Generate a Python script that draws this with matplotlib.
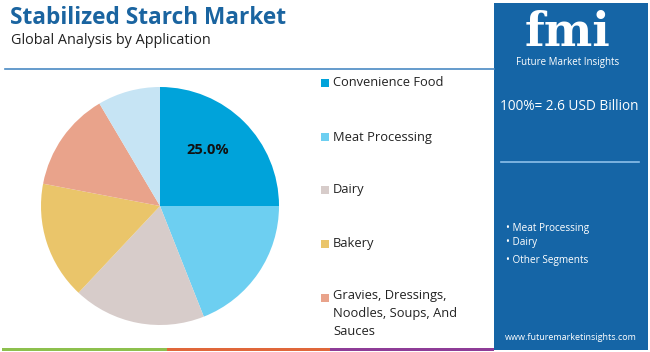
import matplotlib
matplotlib.use("Agg")
import matplotlib.pyplot as plt
from matplotlib.patches import Rectangle

plt.rcParams["font.family"] = ["Open Sans", "DejaVu Sans"]

# data
categories = ["Convenience Food", "Meat Processing", "Dairy", "Bakery",
              "Gravies, Dressings, Noodles, Soups, And Sauces", "Other"]
legend_labels = ["Convenience Food", "Meat Processing", "Dairy", "Bakery",
                 "Gravies, Dressings,\nNoodles, Soups, And\nSauces"]
shares = [25.0, 19.0, 18.0, 16.0, 13.5, 8.5]
colors = ["#00A3DA", "#6DCFF1", "#D7CCCA", "#EAC56A", "#E9A38B", "#C6E4F4"]
side_bullets = ["Meat Processing", "Dairy", "Other Segments"]

W, H = 650, 352
fig = plt.figure(figsize=(W / 100, H / 100), dpi=100)
fig.patch.set_facecolor("white")


def fx(x):
    return x / W


def fy(y):
    return 1 - y / H


# title block
fig.text(fx(10), fy(18), "Stabilized Starch Market", fontsize=16.3, fontweight="bold",
         color="#1A64A0", va="center", ha="left")
fig.text(fx(11), fy(40), "Global Analysis by Application", fontsize=10.4,
         color="#222222", va="center", ha="left")
fig.add_artist(plt.Line2D([fx(5), fx(494)], [fy(69), fy(69)], color="#4A8AC4", lw=1.2))

# bottom stripe
for x0, x1, c in [(2, 167, "#8DC04E"), (167, 330, "#E0673A"), (330, 494, "#8E3C97")]:
    fig.add_artist(Rectangle((fx(x0), fy(351)), fx(x1 - x0), 3 / H, color=c, lw=0))

# right panel
fig.add_artist(Rectangle((fx(494), fy(350)), fx(154), 347 / H, color="#1565A6", lw=0))
fig.text(fx(568), fy(46), "fmi", fontsize=33, fontweight="bold", family="DejaVu Serif",
         color="white", ha="center", va="baseline")
fig.text(fx(568), fy(63), "Future Market Insights", fontsize=7, color="white",
         ha="center", va="center")
fig.text(fx(569), fy(107), "100%= 2.6 USD Billion", fontsize=9.8, color="white",
         ha="center", va="center")
fig.add_artist(plt.Line2D([fx(501), fx(639)], [fy(162), fy(162)], color="#8CC0EA", lw=1.2))
for y, b in zip([229, 243, 260], side_bullets):
    fig.text(fx(506), fy(y), "\u2022 " + b, fontsize=7.2, color="white",
             ha="left", va="center")
fig.text(fx(571), fy(337), "www.futuremarketinsights.com", fontsize=6.5, color="white",
         ha="center", va="center")

# pie
cx, cy, r = 160, 206, 119
ax = fig.add_axes([fx(cx - r), fy(cy + r), 2 * r / W, 2 * r / H])
wedges, _ = ax.pie(shares, colors=colors, startangle=90, counterclock=False,
                   wedgeprops=dict(linewidth=0))
ax.set_aspect("equal")
ax.set_xlim(-1, 1)
ax.set_ylim(-1, 1)
ax.text(0.4, 0.47, f"{shares[0]:.1f}%", fontsize=10.5, fontweight="bold",
        ha="center", va="center", color="#111111")

# legend
ys = [83, 137, 190, 244, 298]
for lab, c, y in zip(legend_labels, colors, ys):
    fig.add_artist(Rectangle((fx(321), fy(y + 4)), fx(8), 8 / H, color=c, lw=0))
    if "\n" in lab:
        fig.text(fx(333), fy(y - 9), lab, fontsize=9.3, color="#222222", ha="left",
                 va="top", linespacing=1.5)
    else:
        fig.text(fx(333), fy(y), lab, fontsize=9.3, color="#222222", ha="left", va="center")

fig.savefig("out.png", dpi=100)
